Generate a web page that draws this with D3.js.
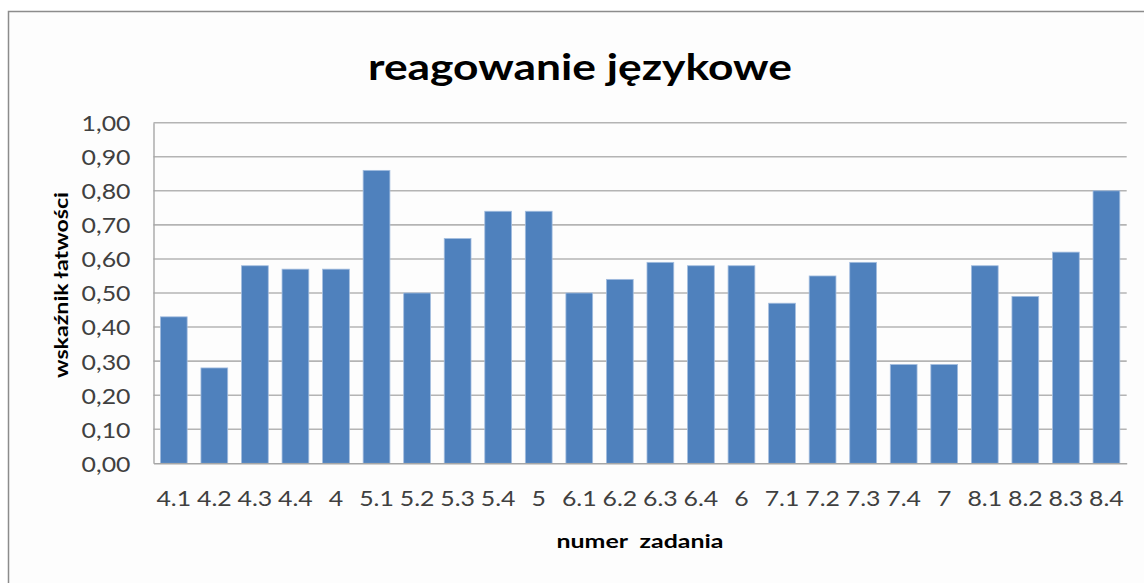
<!DOCTYPE html>
<html>
<head>
<meta charset="utf-8">
<script src="https://cdn.jsdelivr.net/npm/d3@7"></script>
<style>
  html, body { margin: 0; padding: 0; background: #ffffff; }
  svg { display: block; }
</style>
</head>
<body>
<svg id="chart" width="1144" height="583"></svg>
<script>
const categories = ["4.1","4.2","4.3","4.4","4","5.1","5.2","5.3","5.4","5","6.1","6.2","6.3","6.4","6","7.1","7.2","7.3","7.4","7","8.1","8.2","8.3","8.4"];
const values = [0.43,0.28,0.58,0.57,0.57,0.86,0.50,0.66,0.74,0.74,0.50,0.54,0.59,0.58,0.58,0.47,0.55,0.59,0.29,0.29,0.58,0.49,0.62,0.80];
const yTicks = [0,0.1,0.2,0.3,0.4,0.5,0.6,0.7,0.8,0.9,1.0];
const titleText = "reagowanie językowe";
const yTitle = "wskaźnik łatwości";
const xTitle = "numer  zadania";

const svg = d3.select("#chart");
const W = 1144, H = 583;
const plot = { left: 153.5, right: 1126.7, top: 122.7, bottom: 463.3 };

// outer chart frame
svg.append("rect").attr("x", 8.5).attr("y", 11.5).attr("width", W + 10).attr("height", H + 10)
  .attr("fill", "#fdfdfd").attr("stroke", "#8c8c8c").attr("stroke-width", 1.5);

const x = d3.scaleBand().domain(categories).range([plot.left, plot.right])
  .paddingInner(0.34).paddingOuter(0.17);
const y = d3.scaleLinear().domain([0, 1]).range([plot.bottom, plot.top]);

// gridlines
svg.append("g").selectAll("line").data(yTicks.filter(d => d > 0)).join("line")
  .attr("x1", plot.left).attr("x2", plot.right)
  .attr("y1", d => y(d)).attr("y2", d => y(d))
  .attr("stroke", "#b4b4b4").attr("stroke-width", 1.6);

// bars
svg.append("g").selectAll("rect").data(values).join("rect")
  .attr("x", (d, i) => x(categories[i]))
  .attr("y", d => y(d))
  .attr("width", x.bandwidth())
  .attr("height", d => y(0) - y(d))
  .attr("fill", "#4f81bd")
  .attr("stroke", "#a3bddf").attr("stroke-width", 0.8);

function widen(sel, f) {
  sel.each(function () {
    const len = this.getComputedTextLength();
    d3.select(this).attr("textLength", len * f).attr("lengthAdjust", "spacingAndGlyphs");
  });
}

// y axis
const yAxis = d3.axisLeft(y).tickValues(yTicks).tickSize(0).tickPadding(0)
  .tickFormat(d => d3.format(".2f")(d).replace(".", ","));
const gy = svg.append("g").attr("transform", `translate(${plot.left},0)`).call(yAxis);
gy.select(".domain").attr("stroke", "#a6a6a6").attr("stroke-width", 1.4);
gy.selectAll("text").attr("x", -23).attr("dy", "0.36em")
  .attr("font-family", "Lato, 'Open Sans', sans-serif").attr("font-size", 22)
  .attr("fill", "#404040").call(widen, 1.13);

// x axis
const xAxis = d3.axisBottom(x).tickSize(0).tickPadding(0);
const gx = svg.append("g").attr("transform", `translate(0,${plot.bottom})`).call(xAxis);
gx.select(".domain").attr("stroke", "#a6a6a6").attr("stroke-width", 1.6);
gx.selectAll("text").attr("y", 43).attr("dy", 0)
  .attr("font-family", "Lato, 'Open Sans', sans-serif").attr("font-size", 22)
  .attr("fill", "#404040").call(widen, 1.13);

// title
svg.append("text").attr("x", 580).attr("y", 80).attr("text-anchor", "middle")
  .attr("font-family", "Lato, 'Open Sans', sans-serif").attr("font-weight", "bold")
  .attr("font-size", 37).attr("fill", "#000")
  .attr("textLength", 424).attr("lengthAdjust", "spacingAndGlyphs")
  .text(titleText);

// y title
svg.append("text").attr("transform", "translate(68,285) rotate(-90)").attr("text-anchor", "middle")
  .attr("font-family", "Lato, 'Open Sans', sans-serif").attr("font-weight", "bold")
  .attr("font-size", 18.5).attr("fill", "#000")
  .attr("textLength", 186).attr("lengthAdjust", "spacingAndGlyphs")
  .text(yTitle);

// x title
svg.append("text").attr("x", 640).attr("y", 548).attr("text-anchor", "middle")
  .attr("font-family", "Lato, 'Open Sans', sans-serif").attr("font-weight", "bold")
  .attr("font-size", 18.5).attr("fill", "#000").style("white-space", "pre")
  .attr("textLength", 167).attr("lengthAdjust", "spacingAndGlyphs")
  .text(xTitle);
</script>
</body>
</html>
